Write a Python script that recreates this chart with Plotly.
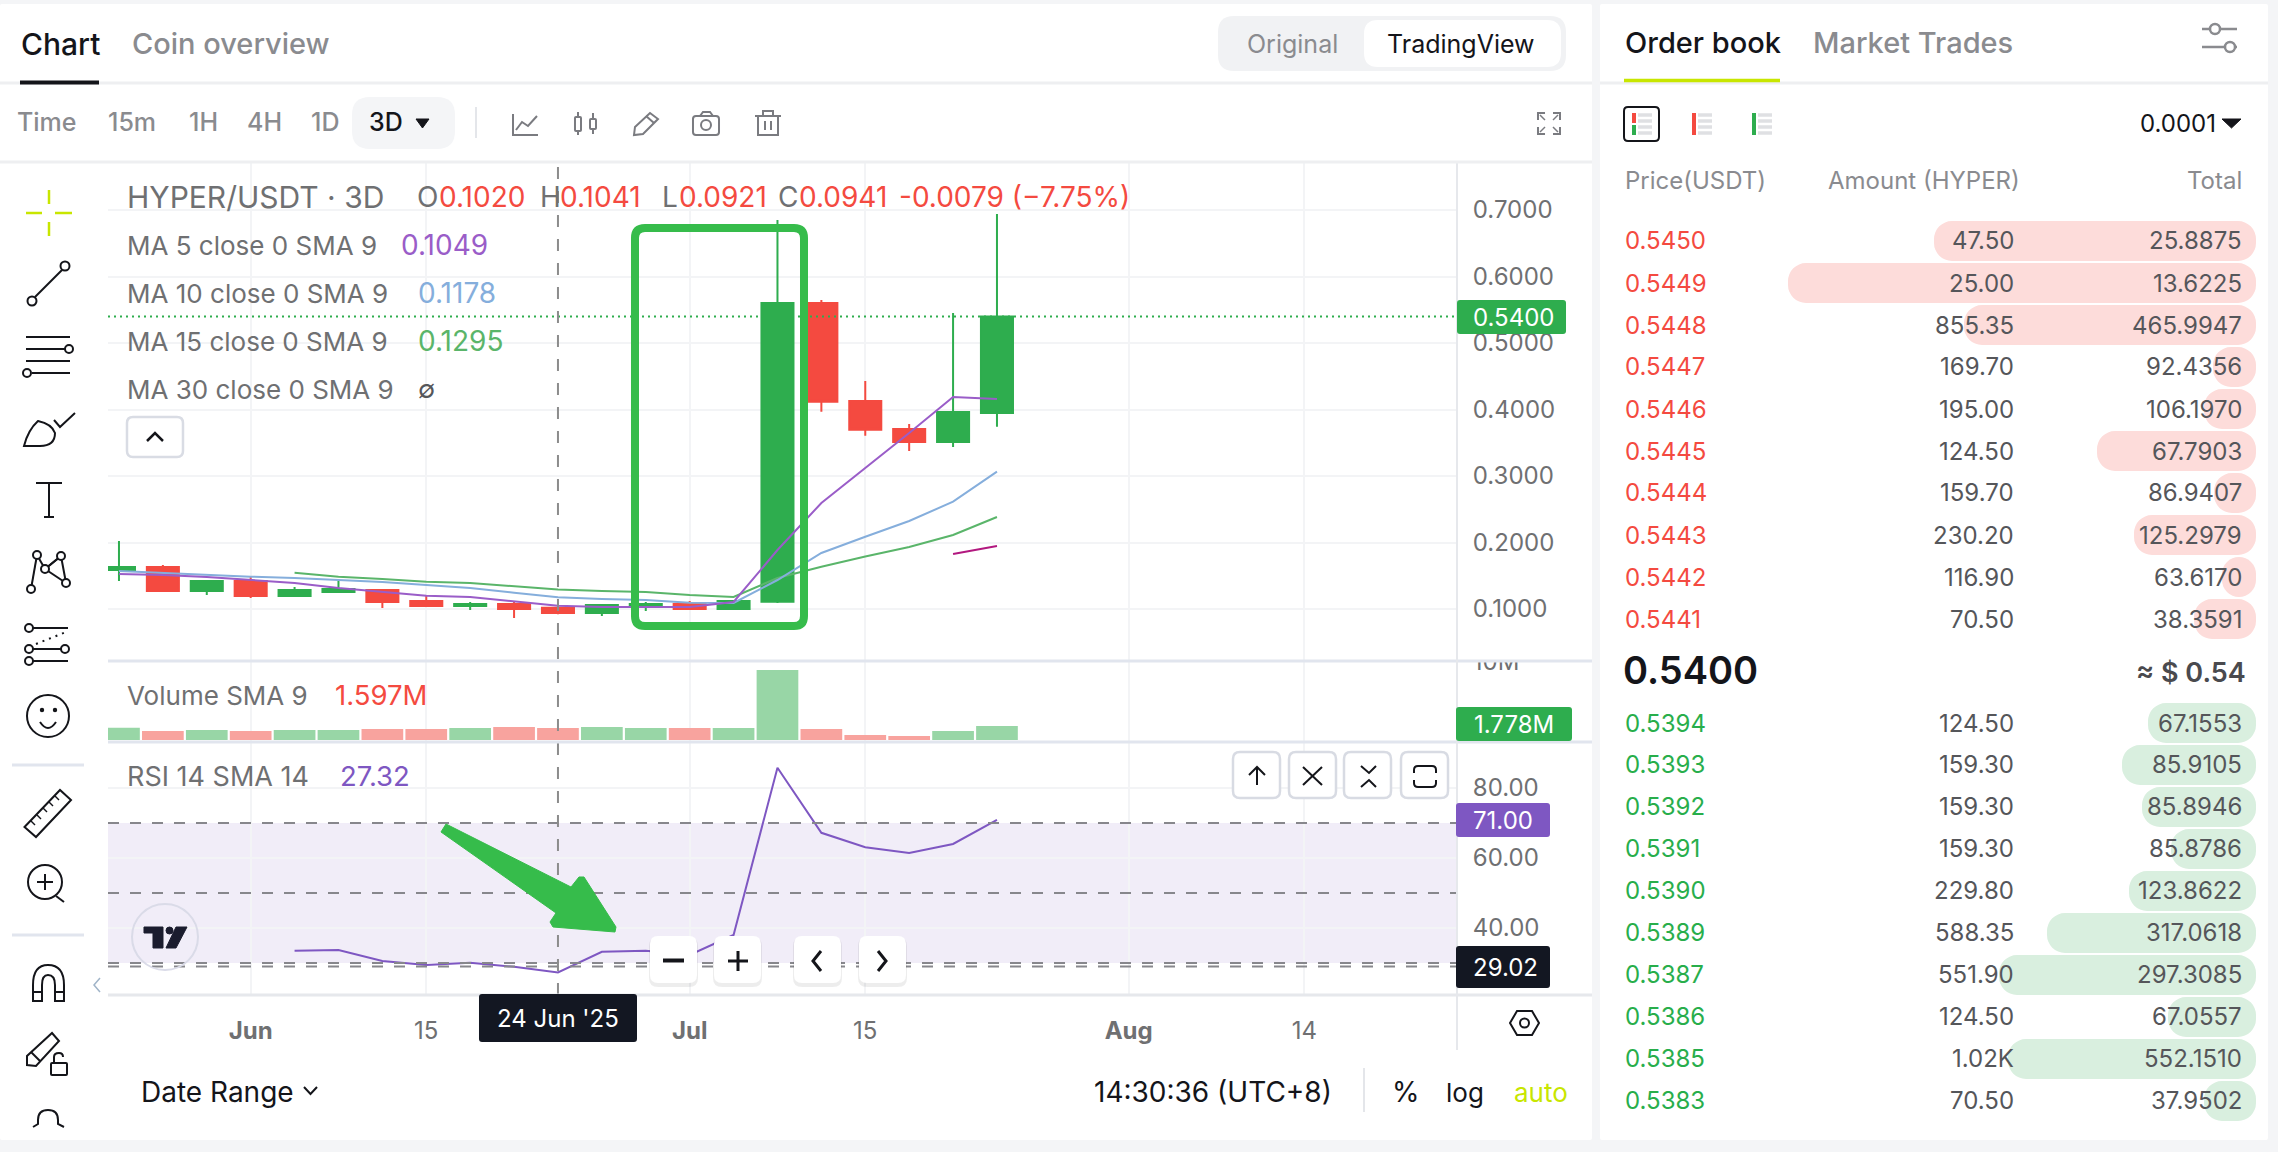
# HYPER/USDT 3D chart panel with the order book next to it
import plotly.graph_objects as go

W, H = 2278, 1152

# candles (3D bars)
bar_dates = ["2025-05-25", "2025-05-28", "2025-05-31", "2025-06-03", "2025-06-06", "2025-06-09", "2025-06-12",
             "2025-06-15", "2025-06-18", "2025-06-21", "2025-06-24", "2025-06-27", "2025-06-30", "2025-07-03",
             "2025-07-06", "2025-07-09", "2025-07-12", "2025-07-15", "2025-07-18", "2025-07-21", "2025-07-24"]
opens = [.1586, .1632, .1271, .1421, .1195, .1256, .1286, .1120, .1045, .1075, .1020,
         .0941, .1045, .1075, .1000, .1110, .5602, .4128, .3707, .3511, .3947]
highs = [.2023, .1662, .1436, .1481, .1331, .1421, .1301, .1211, .1105, .1120, .1041,
         .1075, .1105, .1120, .1135, .6850, .5647, .4429, .3782, .5451, .6940]
lows = [.1421, .1271, .1211, .1165, .1195, .1241, .1015, .1030, .0985, .0865, .0921,
        .0895, .0970, .0985, .0985, .1090, .3967, .3606, .3376, .3436, .3742]
closes = [.1632, .1271, .1421, .1195, .1286, .1301, .1105, .1045, .1075, .1000, .0941,
          .1060, .1075, .1000, .1120, .5602, .4117, .3696, .3511, .3962, .5400]

ma5 = [.1526, .1511, .1481, .1436, .1391, .1316, .1260, .1200, .1180, .1120, .1049,
       .1030, .1030, .1030, .1105, .1887, .2594, .3120, .3647, .4188, .4158]
ma10 = [.1571, .1541, .1511, .1486, .1466, .1436, .1406, .1361, .1316, .1245, .1178,
        .1150, .1135, .1095, .1090, .1436, .1842, .2087, .2323, .2614, .3065]
ma15 = [None, None, None, None, .1545, .1485, .1450, .1410, .1390, .1346, .1295,
        .1270, .1256, .1210, .1180, .1466, .1636, .1789, .1932, .2113, .2383]
ma30 = [None] * 19 + [.1827, .1947]

volumes = [1.57, 1.14, 1.27, 1.14, 1.27, 1.27, 1.40, 1.40, 1.52, 1.65, 1.52,
           1.65, 1.52, 1.52, 1.52, 8.90, 1.40, .64, .51, 1.14, 1.778]
rsi = [None, None, None, None, 33.5, 33.7, 30.6, 29.4, 30.1, 28.9, 27.32,
       33.2, 33.5, 32.3, 38.0, 85.8, 67.2, 63.1, 61.4, 64.0, 70.9]

time_ticks = ["2025-06-03", "2025-06-15", "2025-07-03", "2025-07-15", "2025-08-02", "2025-08-14"]
time_labels = ["<b>Jun</b>", "15", "<b>Jul</b>", "15", "<b>Aug</b>", "14"]
price_ticks = [.1, .2, .3, .4, .5, .6, .7]
rsi_ticks = [40, 60, 80]

# order book
ask_prices = ["0.5450", "0.5449", "0.5448", "0.5447", "0.5446", "0.5445", "0.5444", "0.5443", "0.5442", "0.5441"]
ask_amounts = ["47.50", "25.00", "855.35", "169.70", "195.00", "124.50", "159.70", "230.20", "116.90", "70.50"]
ask_totals = ["25.8875", "13.6225", "465.9947", "92.4356", "106.1970", "67.7903", "86.9407", "125.2979", "63.6170", "38.3591"]
ask_depth = [322, 468, 292, 43, 52, 159, 42, 122, 34, 62]
bid_prices = ["0.5394", "0.5393", "0.5392", "0.5391", "0.5390", "0.5389", "0.5387", "0.5386", "0.5385", "0.5383"]
bid_amounts = ["124.50", "159.30", "159.30", "159.30", "229.80", "588.35", "551.90", "124.50", "1.02K", "70.50"]
bid_totals = ["67.1553", "85.9105", "85.8946", "85.8786", "123.8622", "317.0618", "297.3085", "67.0557", "552.1510", "37.9502"]
bid_depth = [108, 134, 114, 85, 127, 209, 257, 88, 248, 52]

GREEN = "#2EAD4E"
RED = "#F44A40"
PURPLE = "#7E57C2"
LIME = "#C8E600"
MARK = "#36BC4B"
GREY = "#6F7072"
SOFT = "#8A8B8F"
INK = "#14151A"
FONT = "Inter"


def px(x):
    return x / W


def py(y):
    return 1 - y / H


def fmt(x, y):
    return f"{px(x):.5f},{py(y):.5f}"


shapes = []
notes = []


def label(x, y, text, size=24, color=GREY, anchor="left", weight=400):
    notes.append(dict(x=px(x), y=py(y), xref="paper", yref="paper", text=text, showarrow=False,
                      xanchor=anchor, yanchor="middle", borderpad=0,
                      font=dict(family=FONT, size=size, color=color, weight=weight)))


def line(x0, y0, x1, y1, color=INK, w=2, dash=None, layer="above"):
    shapes.append(dict(type="line", xref="paper", yref="paper", x0=px(x0), y0=py(y0), x1=px(x1), y1=py(y1),
                       line=dict(color=color, width=w, dash=dash), layer=layer))


def path(d, color=INK, w=2, fill=None, layer="above"):
    shapes.append(dict(type="path", xref="paper", yref="paper", path=d, fillcolor=fill,
                       line=dict(color=color, width=w), layer=layer))


def poly(points, color=INK, w=2, fill=None, close=False, layer="above"):
    d = "M" + " L".join(fmt(x, y) for x, y in points) + (" Z" if close else "")
    path(d, color, w, fill, layer)


def rrect(x0, y0, x1, y1, r, color=None, w=0, fill=None, layer="above"):
    d = (f"M{fmt(x0 + r, y0)} L{fmt(x1 - r, y0)} Q{fmt(x1, y0)} {fmt(x1, y0 + r)} L{fmt(x1, y1 - r)} "
         f"Q{fmt(x1, y1)} {fmt(x1 - r, y1)} L{fmt(x0 + r, y1)} Q{fmt(x0, y1)} {fmt(x0, y1 - r)} "
         f"L{fmt(x0, y0 + r)} Q{fmt(x0, y0)} {fmt(x0 + r, y0)} Z")
    path(d, color or "rgba(0,0,0,0)", w, fill, layer)


def circle(cx, cy, r, color=INK, w=2, fill=None, layer="above"):
    shapes.append(dict(type="circle", xref="paper", yref="paper", x0=px(cx - r), x1=px(cx + r),
                       y0=py(cy + r), y1=py(cy - r), fillcolor=fill, line=dict(color=color, width=w), layer=layer))


fig = go.Figure()

# price pane
fig.add_trace(go.Candlestick(x=bar_dates, open=opens, high=highs, low=lows, close=closes, whiskerwidth=0,
                             increasing=dict(line=dict(color=GREEN, width=2), fillcolor=GREEN),
                             decreasing=dict(line=dict(color=RED, width=2), fillcolor=RED),
                             showlegend=False, hoverinfo="skip", xaxis="x", yaxis="y"))
for values, color in [(ma30, "#B2187F"), (ma15, "#5AB56A"), (ma10, "#85AEDC"), (ma5, "#9A5DC8")]:
    fig.add_trace(go.Scatter(x=bar_dates, y=values, mode="lines", line=dict(color=color, width=2),
                             showlegend=False, hoverinfo="skip", xaxis="x", yaxis="y"))

# volume pane
volume_colors = ["#98D6A6" if c >= o else "#F8A39E" for o, c in zip(opens, closes)]
fig.add_trace(go.Bar(x=bar_dates, y=volumes, marker=dict(color=volume_colors, line=dict(width=0)),
                     showlegend=False, hoverinfo="skip", xaxis="x2", yaxis="y2"))

# rsi pane
fig.add_trace(go.Scatter(x=bar_dates, y=rsi, mode="lines", line=dict(color=PURPLE, width=2),
                         showlegend=False, hoverinfo="skip", xaxis="x3", yaxis="y3"))


# order book depth pills, a set base makes plotly round both ends
def depth_bars(depth, prices, color, xaxis, yaxis):
    fig.add_trace(go.Bar(y=prices, x=depth, base=[0] * len(depth), orientation="h",
                         marker=dict(color=color, line=dict(width=0), cornerradius=18),
                         showlegend=False, hoverinfo="skip", xaxis=xaxis, yaxis=yaxis))


depth_bars(ask_depth, ask_prices, "#FDDCDA", "x4", "y4")
depth_bars(bid_depth, bid_prices, "#D9EFDF", "x5", "y5")

for p, a, t, rank in zip(ask_prices, ask_amounts, ask_totals, range(10)):
    y = 241 + 42 * rank
    label(1624, y, p, 24, RED)
    label(2015, y, a, 24, "#55565A", "right")
    label(2243, y, t, 24, "#55565A", "right")
for p, a, t, rank in zip(bid_prices, bid_amounts, bid_totals, range(10)):
    y = 723 + 41.9 * rank
    label(1624, y, p, 24, "#28AE4B")
    label(2015, y, a, 24, "#55565A", "right")
    label(2243, y, t, 24, "#55565A", "right")

# page panels
rrect(0, 4, 1592, 1140, 2, fill="white", layer="below")
rrect(1600, 4, 2268, 1140, 2, fill="white", layer="below")

# legend row has a white backing in the chart
shapes.append(dict(type="rect", xref="paper", yref="paper", x0=px(120), x1=px(1129), y0=py(216), y1=py(178),
                   fillcolor="white", line=dict(width=0), layer="below"))

# rsi band and levels
shapes.append(dict(type="rect", xref="x3 domain", yref="y3", x0=0, x1=1, y0=30, y1=70,
                   fillcolor="rgba(126,87,194,0.11)", line=dict(width=0), layer="below"))
for level in [70, 50, 30, 29.02]:
    shapes.append(dict(type="line", xref="x3 domain", yref="y3", x0=0, x1=1, y0=level, y1=level,
                       line=dict(color="#87878C", width=2, dash="11px,11px"), layer="above"))

# last price line and crosshair
shapes.append(dict(type="line", xref="x domain", yref="y", x0=0, x1=1, y0=.54, y1=.54,
                   line=dict(color=GREEN, width=2, dash="2px,4px"), layer="above"))
shapes.append(dict(type="line", xref="x3", yref="paper", x0=bar_dates[10], x1=bar_dates[10], y0=py(995), y1=py(162),
                   line=dict(color="#8C8C8C", width=2, dash="12px,12px"), layer="above"))

# clip the 10M label and draw pane separators
shapes.append(dict(type="rect", xref="paper", yref="paper", x0=px(1459), x1=px(1590), y0=py(661), y1=py(640),
                   fillcolor="white", line=dict(width=0), layer="above"))
line(108, 661, 1592, 661, "#E1E5EE", 3)
line(108, 742, 1592, 742, "#E1E5EE", 3)
line(108, 995, 1592, 995, "#E6E8EC", 3)
line(1457, 162, 1457, 1050, "#E6E8EC", 2)

# top tabs and toolbar
line(0, 83, 1592, 83, "#EEEFF1", 3)
line(0, 162, 1592, 162, "#EEEFF1", 3)
line(20, 82.5, 99, 82.5, INK, 4)
label(20, 44, "Chart", 30, INK, weight=500)
label(131, 44, "Coin overview", 29, SOFT, weight=500)
rrect(1218, 16, 1566, 71, 16, fill="#F1F2F4")
rrect(1364, 20, 1561, 67, 14, fill="white")
label(1292, 44, "Original", 25, SOFT, "center")
label(1461, 44, "TradingView", 25, INK, "center")

label(16, 122, "Time", 25, SOFT, weight=500)
label(107, 122, "15m", 25, SOFT, weight=500)
label(188, 122, "1H", 25, SOFT, weight=500)
label(246, 122, "4H", 25, SOFT, weight=500)
label(310, 122, "1D", 25, SOFT, weight=500)
rrect(352, 97, 455, 149, 18, fill="#F4F5F7")
label(368, 122, "3D", 25, INK, weight=500)
poly([(416, 119), (429, 119), (422.5, 128)], INK, 1, INK, True)
line(476, 107, 476, 138, "#E4E6EA", 2)

ICON = "#7A7B80"
poly([(513, 114), (513, 135), (538, 135)], ICON)
poly([(516, 130), (522, 122), (528, 126), (537, 116)], ICON)
rrect(575, 117, 581, 131, 1, ICON, 2)
line(578, 112, 578, 117, ICON)
line(578, 131, 578, 135, ICON)
rrect(590, 119, 596, 129, 1, ICON, 2)
line(593, 113, 593, 119, ICON)
line(593, 129, 593, 134, ICON)
poly([(634, 135), (635, 127), (650, 113), (658, 119), (643, 134)], ICON, close=True)
line(646, 116, 654, 123, ICON)
rrect(693, 116, 719, 135, 3, ICON, 2)
poly([(700, 116), (703, 112), (710, 112), (713, 116)], ICON)
circle(706, 125, 5, ICON)
line(755, 116, 781, 116, ICON)
poly([(758, 116), (758, 135), (778, 135), (778, 116)], ICON)
poly([(763, 116), (763, 111), (773, 111), (773, 116)], ICON)
line(765, 121, 765, 130, ICON)
line(771, 121, 771, 130, ICON)
for cx, cy, sx, sy in [(1538, 113, 1, 1), (1560, 113, -1, 1), (1538, 134, 1, -1), (1560, 134, -1, -1)]:
    poly([(cx, cy + sy * 7), (cx, cy), (cx + sx * 7, cy)], ICON)
    line(cx + sx * 2, cy + sy * 2, cx + sx * 7, cy + sy * 7, ICON, 1.5)

# left drawing tools
for seg in [(26, 213, 42, 213), (55, 213, 72, 213), (49, 190, 49, 204), (49, 222, 49, 236)]:
    line(*seg, LIME, 2.5)
circle(32, 301, 4.5)
circle(65, 266, 4.5)
line(35, 297, 62, 270)
line(26, 337, 70, 337)
line(26, 349, 65, 349)
circle(69, 349, 4)
line(26, 361, 70, 361)
line(32, 373, 70, 373)
circle(27, 373, 4)
path(f"M{fmt(24, 446)} Q{fmt(28, 430)} {fmt(38, 421)} Q{fmt(52, 424)} {fmt(55, 433)} Q{fmt(55, 446)} {fmt(40, 446)} Z")
poly([(54, 420), (60, 427), (75, 413)])
line(36, 483, 62, 483)
line(49, 483, 49, 517)
line(44, 517, 54, 517)
for a, b in [((37, 555), (45, 569)), ((45, 569), (61, 556)), ((61, 556), (66, 583)), ((45, 569), (66, 583)),
             ((37, 555), (31, 589)), ((61, 556), (45, 569))]:
    line(*a, *b)
for c in [(37, 555), (61, 556), (45, 569), (31, 589), (66, 583)]:
    circle(*c, 4, fill="white")
line(33, 628, 68, 628)
circle(29, 628, 4)
line(33, 649, 61, 649)
circle(29, 649, 4)
circle(65, 649, 4)
line(33, 661, 68, 661)
circle(29, 661, 4)
line(36, 644, 66, 632, INK, 2, "2px,5px")
circle(48, 716, 21)
circle(42, 710, 1.2, fill=INK)
circle(55, 710, 1.2, fill=INK)
path(f"M{fmt(40, 722)} Q{fmt(48, 734)} {fmt(56, 722)}")
line(12, 765, 84, 765, "#E1E5EE", 3)
poly([(24.5, 827), (36, 837), (71, 800), (60, 790)], close=True)
for tx, ty in [(31, 821), (37, 815), (43, 808), (49, 802), (55, 796)]:
    line(tx, ty, tx + 4, ty + 4, INK, 1.5)
circle(45, 882, 17)
line(45, 874, 45, 890)
line(37, 882, 53, 882)
line(56, 896, 64, 902)
line(12, 935, 84, 935, "#E1E5EE", 3)
path(f"M{fmt(33, 1001)} L{fmt(33, 985)} Q{fmt(33, 965)} {fmt(48, 965)} Q{fmt(64, 965)} {fmt(64, 985)} "
     f"L{fmt(64, 1001)} L{fmt(55, 1001)} L{fmt(55, 985)} Q{fmt(55, 975)} {fmt(48, 975)} Q{fmt(42, 975)} {fmt(42, 985)} "
     f"L{fmt(42, 1001)} Z")
line(33, 992, 42, 992)
line(55, 992, 64, 992)
poly([(27, 1065), (27, 1056), (52, 1033), (59, 1041), (36, 1066)], close=True)
line(31, 1052, 40, 1061)
rrect(51, 1063, 67, 1075, 1, INK, 2)
path(f"M{fmt(54, 1063)} L{fmt(54, 1057)} Q{fmt(54, 1053)} {fmt(59, 1053)} Q{fmt(63, 1053)} {fmt(63, 1057)}")
path(f"M{fmt(33, 1127)} L{fmt(38, 1124)} L{fmt(38, 1120)} Q{fmt(38, 1110)} {fmt(48, 1110)} "
     f"Q{fmt(58, 1110)} {fmt(58, 1120)} L{fmt(58, 1124)} L{fmt(64, 1127)}")
poly([(100, 978), (94, 985), (100, 992)], "#A0B4C8", 1.5)

# chart legends
label(126, 197, "HYPER/USDT · 3D", 30, GREY)
x_ohlc = [(416, "O", GREY), (438, "0.1020", RED), (539, "H", GREY), (559, "0.1041", RED), (661, "L", GREY),
          (678, "0.0921", RED), (777, "C", GREY), (798, "0.0941", RED), (898, "-0.0079 (−7.75%)", RED)]
for x, text, color in x_ohlc:
    label(x, 197, text, 28, color)
label(126, 245, "MA 5 close 0 SMA 9", 26)
label(400, 245, "0.1049", 28, "#9A5DC8")
label(126, 293, "MA 10 close 0 SMA 9", 26)
label(417, 293, "0.1178", 28, "#85AEDC")
label(126, 341, "MA 15 close 0 SMA 9", 26)
label(417, 341, "0.1295", 28, "#5AB56A")
label(126, 389, "MA 30 close 0 SMA 9", 26)
label(417, 389, "∅", 25, "#55565A")
rrect(127, 417, 183, 457, 6, "#D9DCE4", 2.5, "white")
poly([(147, 441), (155, 433), (163, 441)], INK, 2.5)
label(126, 695, "Volume SMA 9", 26)
label(334, 695, "1.597M", 27.5, RED)
label(126, 776, "RSI 14 SMA 14", 27)
label(339, 776, "27.32", 27.5, PURPLE)

# tv logo
circle(165, 937, 33, "#DADBE8", 2)
poly([(144, 927), (163, 927), (163, 948), (153, 948), (153, 933), (144, 933)], "#1B1C2E", 1, "#1B1C2E", True)
circle(169.5, 930.5, 3.5, "#1B1C2E", 1, "#1B1C2E")
poly([(176, 927), (187, 927), (176, 948), (166, 948)], "#1B1C2E", 1, "#1B1C2E", True)

# hand drawn markup
d = "M" + fmt(635, 238) + " Q" + fmt(635, 228) + " " + fmt(645, 228) + " L" + fmt(794, 228) + " Q" + fmt(804, 228) + " " + fmt(804, 238)
d += " L" + fmt(804, 616) + " Q" + fmt(804, 626) + " " + fmt(794, 626) + " L" + fmt(645, 626) + " Q" + fmt(635, 626) + " " + fmt(635, 616) + " Z"
path(d, MARK, 8)
poly([(446, 824), (571, 887), (579, 877), (584, 877), (616, 927), (615, 932), (553, 927), (550, 922), (556, 913), (441, 832)],
     MARK, 1, MARK, True)

# floating chart buttons
for x0, x1 in [(650, 697), (714, 761), (794, 841), (859, 906)]:
    rrect(x0 - 1, 937, x1 + 1, 987, 9, fill="rgba(0,0,0,0.07)")
    rrect(x0, 936, x1, 983, 8, fill="white")
line(663, 960.5, 684, 960.5, INK, 4)
line(728, 961, 748, 961, INK, 3)
line(738, 951, 738, 971, INK, 3)
poly([(821, 951), (813, 961), (821, 971)], INK, 3)
poly([(878, 951), (886, 961), (878, 971)], INK, 3)
for x0, x1 in [(1233, 1280), (1289, 1336), (1344, 1391), (1401, 1448)]:
    rrect(x0, 752, x1, 798, 7, "#D8DBE3", 2.5, "white")
line(1257, 767, 1257, 785)
poly([(1249, 775), (1257, 767), (1265, 775)])
line(1303, 767, 1322, 785)
line(1322, 767, 1303, 785)
poly([(1361, 766), (1369, 773), (1376, 766)])
poly([(1361, 787), (1369, 780), (1376, 787)])
path(f"M{fmt(1414, 773)} L{fmt(1414, 770)} Q{fmt(1414, 766)} {fmt(1418, 766)} L{fmt(1432, 766)} Q{fmt(1436, 766)} {fmt(1436, 770)} L{fmt(1436, 773)}")
path(f"M{fmt(1414, 780)} L{fmt(1414, 783)} Q{fmt(1414, 787)} {fmt(1418, 787)} L{fmt(1432, 787)} Q{fmt(1436, 787)} {fmt(1436, 783)} L{fmt(1436, 780)}")

# axis price tags
rrect(1457, 300, 1566, 334, 3, fill=GREEN)
label(1472, 317, "0.5400", 24, "white")
rrect(1456, 707, 1572, 741, 3, fill=GREEN)
label(1473, 724, "1.778M", 24, "white")
rrect(1456, 803, 1550, 837, 3, fill=PURPLE)
label(1472, 820, "71.00", 24, "white")
rrect(1456, 946, 1550, 988, 3, fill="#131722")
label(1472, 967, "29.02", 24, "white")
rrect(479, 994, 637, 1042, 3, fill="#131722")
label(558, 1018, "24 Jun '25", 24, "white", "center")

# footer
poly([(1510, 1023), (1517, 1011), (1532, 1011), (1539, 1023), (1532, 1035), (1517, 1035)], close=True)
circle(1524.5, 1023, 4.5)
label(140, 1092, "Date Range", 28, INK)
poly([(304, 1087), (310.5, 1094), (317, 1087)], INK, 2)
label(1093, 1092, "14:30:36 (UTC+8)", 28, INK)
line(1364, 1068, 1364, 1112, "#E4E6EA", 2)
label(1391, 1092, "%", 28, INK)
label(1445, 1092, "log", 26, INK)
label(1513, 1092, "auto", 26, LIME)

# order book header
line(1600, 83, 2268, 83, "#EEEFF1", 3)
line(1624, 80.5, 1780, 80.5, LIME, 3.5)
label(1624, 43, "Order book", 29, INK, weight=500)
label(1812, 43, "Market Trades", 29, SOFT, weight=500)
line(2202, 29, 2237, 29, SOFT, 2.5)
circle(2215, 29, 5, SOFT, 2.5, "white")
line(2202, 47, 2237, 47, SOFT, 2.5)
circle(2230, 47, 5, SOFT, 2.5, "white")
rrect(1624, 107, 1659, 141, 4, INK, 2)
line(1634, 113, 1634, 123, RED, 4)
line(1634, 125, 1634, 135, GREEN, 4)
for bar_x, bar_color in [(1694, RED), (1754, GREEN)]:
    line(bar_x, 113, bar_x, 135, bar_color, 4)
for x0, x1 in [(1638, 1652), (1698, 1712), (1758, 1772)]:
    for y in [115, 121, 127, 133]:
        line(x0, y, x1, y, "#DFE0E3", 3.5)
label(2139, 123, "0.0001", 24, INK)
poly([(2222, 119), (2241, 119), (2231.5, 128)], INK, 1, INK, True)
label(1624, 180, "Price(USDT)", 24, SOFT)
label(1827, 180, "Amount (HYPER)", 24, SOFT)
label(2243, 180, "Total", 24, SOFT, "right")
label(1622, 670, "0.5400", 38, INK, weight=600)
label(2247, 672, "≈ $ 0.54", 27, "#4A4A4E", "right", 600)

hidden = dict(visible=False, showgrid=False, zeroline=False, fixedrange=True)
grid = "#F3F4F6"
x_common = dict(type="date", range=["2025-05-24 06:00", "2025-08-24 10:30"], domain=[px(108), px(1457)],
                tickmode="array", tickvals=time_ticks, showgrid=True, gridcolor=grid, gridwidth=2,
                zeroline=False, showline=False, rangeslider=dict(visible=False))
y_common = dict(side="right", zeroline=False, showline=False, showgrid=True, gridcolor=grid, gridwidth=2,
                ticks="outside", ticklen=10, tickcolor="rgba(0,0,0,0)", tickfont=dict(family=FONT, size=24, color=GREY))

fig.update_layout(
    width=W, height=H, margin=dict(l=0, r=0, t=0, b=0, autoexpand=False),
    paper_bgcolor="#F4F5F7", plot_bgcolor="rgba(0,0,0,0)", showlegend=False,
    barmode="overlay", bargap=0.05, boxgap=0.27, boxgroupgap=0,
    xaxis=dict(x_common, anchor="y", ticktext=time_labels, showticklabels=False, ticks=""),
    xaxis2=dict(x_common, anchor="y2", ticktext=time_labels, showticklabels=False, ticks=""),
    xaxis3=dict(x_common, anchor="y3", ticktext=time_labels, ticks="outside", ticklen=14, tickcolor="rgba(0,0,0,0)",
                tickfont=dict(family=FONT, size=24, color=GREY)),
    yaxis=dict(y_common, anchor="x", domain=[py(661), py(162)], range=[.0218, .7722],
               tickmode="array", tickvals=price_ticks, tickformat=".4f"),
    yaxis2=dict(y_common, anchor="x2", domain=[py(742), py(661)], range=[-.25, 10.03], showgrid=False,
                tickmode="array", tickvals=[10], ticktext=["10M"]),
    yaxis3=dict(y_common, anchor="x3", domain=[py(995), py(742)], range=[20.86, 93.14],
                tickmode="array", tickvals=rsi_ticks, tickformat=".2f"),
    xaxis4=dict(hidden, anchor="y4", domain=[px(1600), px(2256)], range=[656, 0]),
    yaxis4=dict(hidden, anchor="x4", domain=[py(640), py(220)], type="category", autorange="reversed"),
    xaxis5=dict(hidden, anchor="y5", domain=[px(1600), px(2256)], range=[656, 0]),
    yaxis5=dict(hidden, anchor="x5", domain=[py(1122), py(702)], type="category", autorange="reversed"),
    shapes=shapes, annotations=notes,
)

fig.write_html("out.html", config=dict(displayModeBar=False), post_script="document.body.style.margin='0';")
